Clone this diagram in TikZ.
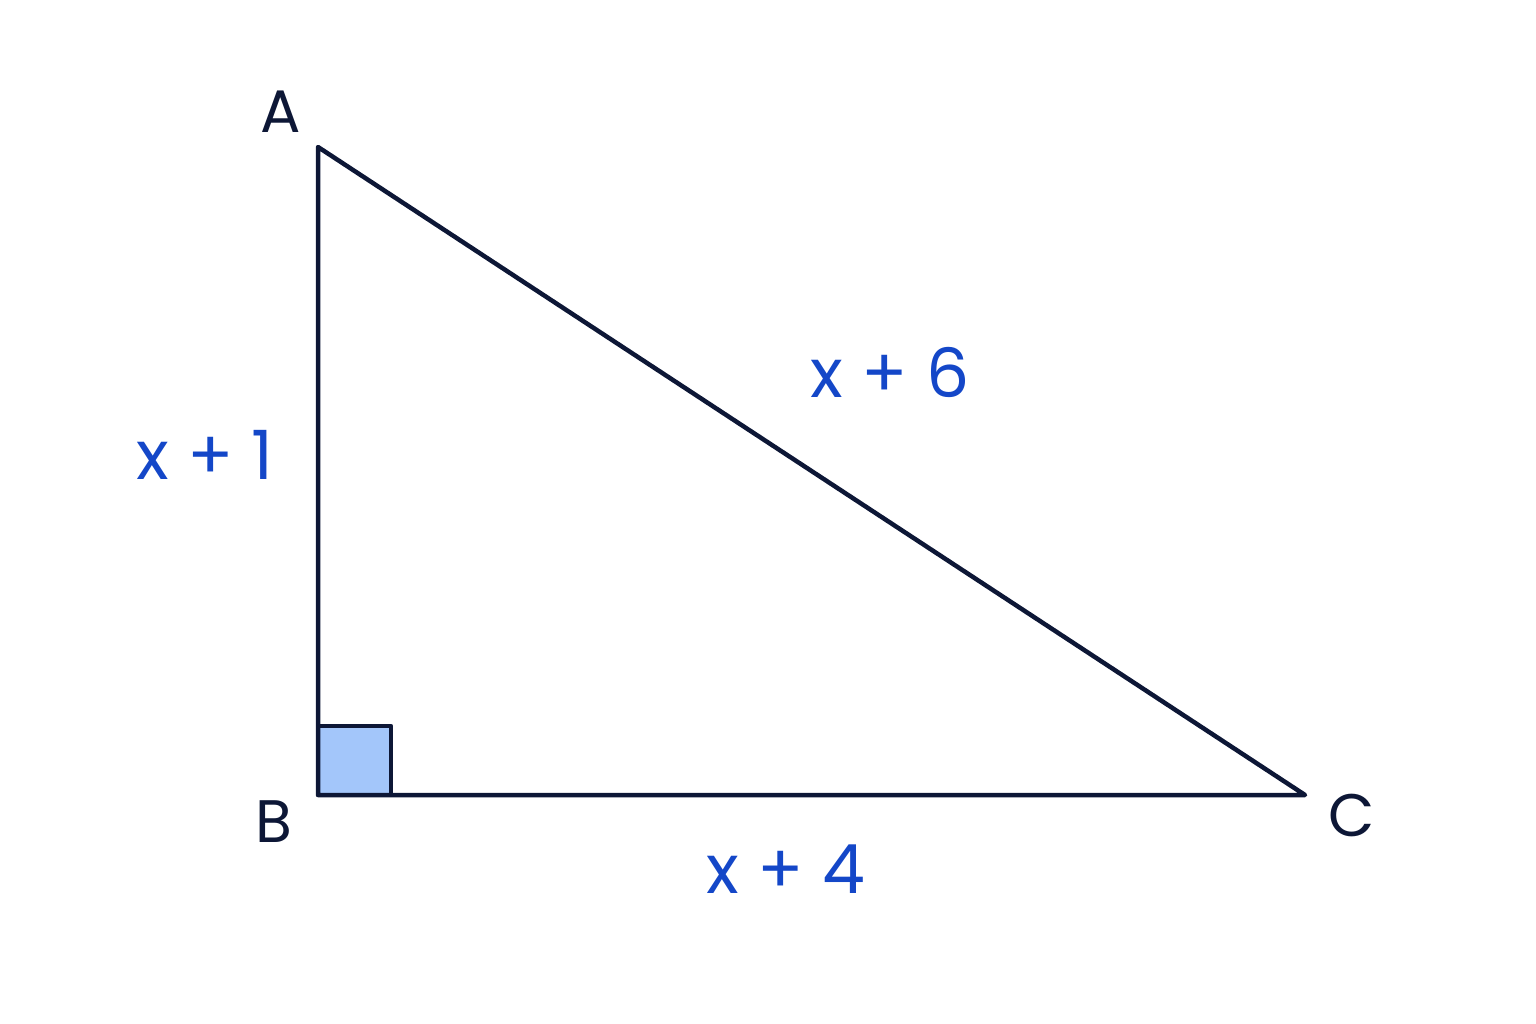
\documentclass[tikz,border=0pt]{standalone}
\usepackage{fontspec}
\setmainfont{Poppins}
\definecolor{ink}{HTML}{0D1736}
\definecolor{lbl}{HTML}{1447C8}
\definecolor{sq}{HTML}{A3C6FA}
\begin{document}
\begin{tikzpicture}[x=1pt,y=-1pt,
  edge/.style={draw=ink,line width=4.5pt,line join=round,line cap=round},
  vlabel/.style={text=ink,font=\fontsize{60}{60}\selectfont,inner sep=0pt},
  slabel/.style={text=lbl,font=\fontsize{68}{68}\selectfont,inner sep=0pt}]
\useasboundingbox (0,0) rectangle (1536,1024);
\coordinate (A) at (318,147);
\coordinate (B) at (318,795);
\coordinate (C) at (1305,795);
\filldraw[edge,fill=sq] (318,726) rectangle (391,795);
\draw[edge] (A) -- (B) -- (C) -- cycle;
\node[vlabel] (lA) at (281,112) {A};
\node[vlabel] (lB) at (274,822) {B};
\node[vlabel] (lC) at (1352,815) {C};
\node[slabel] (s1) at (205,455) {x + 1};
\node[slabel] (s6) at (890,372) {x + 6};
\node[slabel] (s4) at (786,869) {x + 4};
\end{tikzpicture}
\end{document}
